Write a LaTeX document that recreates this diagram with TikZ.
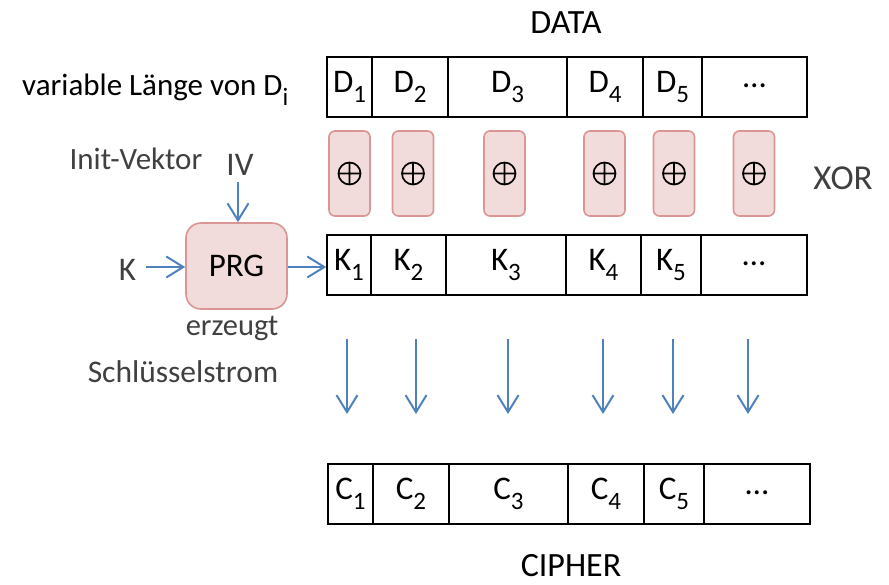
\documentclass[tikz,border=0pt]{standalone}
\usepackage{fontspec}
\setmainfont{Carlito}
\usetikzlibrary{arrows.meta}

\definecolor{boxfill}{RGB}{242,220,219}
\definecolor{boxline}{RGB}{217,150,148}
\definecolor{arrowblue}{RGB}{79,129,189}
\definecolor{labelgray}{RGB}{64,64,64}

\newcommand{\sz}[1]{\fontsize{#1}{#1}\selectfont}
\newcommand{\idx}[1]{\raisebox{-10pt}{\sz{25}#1}}

\tikzset{
  cellbox/.style={draw=black, line width=1.6pt, inner sep=0pt, font=\sz{33}},
  xorbox/.style={draw=boxline, fill=boxfill, line width=1.6pt, rounded corners=6pt,
    minimum width=41pt, minimum height=85pt, inner sep=0pt},
  xorsign/.style={draw=black, line width=1.7pt},
  prgbox/.style={draw=boxline, fill=boxfill, line width=1.6pt, rounded corners=15pt,
    minimum width=101pt, minimum height=86pt, inner sep=0pt, font=\sz{33}},
  flow/.style={draw=arrowblue, line width=2pt,
    -{Straight Barb[length=17pt,width=21pt,line width=2pt]}},
  lbl/.style={inner sep=0pt, text=labelgray},
}

\begin{document}
\begin{tikzpicture}[x=1pt, y=-1pt]
  \useasboundingbox (0,0) rectangle (889,584);

  % cell rows: data, key stream, cipher
  \foreach \row/\letter/\top/\xa/\xb/\xc/\xd/\xe/\xf/\xg in {
      d/D/57/327/372/448/567/643/702/807,
      k/K/235/327/371/446/566/641/701/807,
      c/C/464/328/373/449/568/644/704/810} {
    \pgfmathsetmacro{\mid}{\top+30}
    \foreach \i/\l/\r in {1/\xa/\xb, 2/\xb/\xc, 3/\xc/\xd, 4/\xd/\xe, 5/\xe/\xf} {
      \pgfmathsetmacro{\w}{\r-\l}
      \pgfmathsetmacro{\cx}{(\l+\r)/2}
      \node[cellbox, minimum width=\w pt, minimum height=60pt] (\row\i) at (\cx,\mid)
        {\letter\idx{\i}};
    }
    \pgfmathsetmacro{\w}{\xg-\xf}
    \pgfmathsetmacro{\cx}{(\xf+\xg)/2}
    \node[cellbox, minimum width=\w pt, minimum height=60pt] (\row6) at (\cx,\mid)
      {\raisebox{3pt}{\dots}};
  }

  % XOR operators between data and key stream
  \foreach \i/\x in {1/349.5, 2/413, 3/504.5, 4/604.5, 5/674, 6/754} {
    \node[xorbox] (x\i) at (\x,173.5) {};
    \draw[xorsign] (x\i) circle (11pt)
      (x\i.center) ++(-11pt,0) -- ++(22pt,0)
      (x\i.center) ++(0,-11pt) -- ++(0,22pt);
  }

  % key stream generator
  \node[prgbox] (prg) at (236.5,266) {PRG};
  \node[lbl, anchor=base, font=\sz{33}] (k) at (127.5,280) {K};
  \node[lbl, anchor=base, font=\sz{33}] (iv) at (240,175) {IV};
  \coordinate (kstart) at (146,267);
  \coordinate (ivstart) at (238,182);
  \draw[flow] (kstart) -- (prg.west |- kstart);
  \draw[flow] (ivstart) -- (prg.north -| ivstart);
  \draw[flow] (prg.east |- kstart) -- (k1.west |- kstart);

  % combining into the cipher
  \foreach \x [count=\i] in {347, 416, 508, 603, 673, 748} {
    \coordinate (a\i) at (\x,339);
    \coordinate (b\i) at (\x,414);
    \draw[flow] (a\i) -- (b\i);
  }

  % labels
  \node[inner sep=0pt, anchor=base, font=\sz{34}] (data) at (566,33) {DATA};
  \node[inner sep=0pt, anchor=base, font=\sz{34}] (cipher) at (571,576) {CIPHER};
  \node[lbl, anchor=base, font=\sz{35}] (xor) at (843,189) {XOR};
  \node[inner sep=0pt, anchor=base west, font=\sz{31}] (len) at (22,95)
    {variable Länge von D\idx{i}};
  \node[lbl, anchor=base, font=\sz{31}] (init) at (136,169) {Init-Vektor};
  \node[lbl, anchor=base, font=\sz{30.5}] (gen) at (232,335) {erzeugt};
  \node[lbl, anchor=base, font=\sz{31.5}] (stream) at (183,382) {Schlüsselstrom};
\end{tikzpicture}
\end{document}
